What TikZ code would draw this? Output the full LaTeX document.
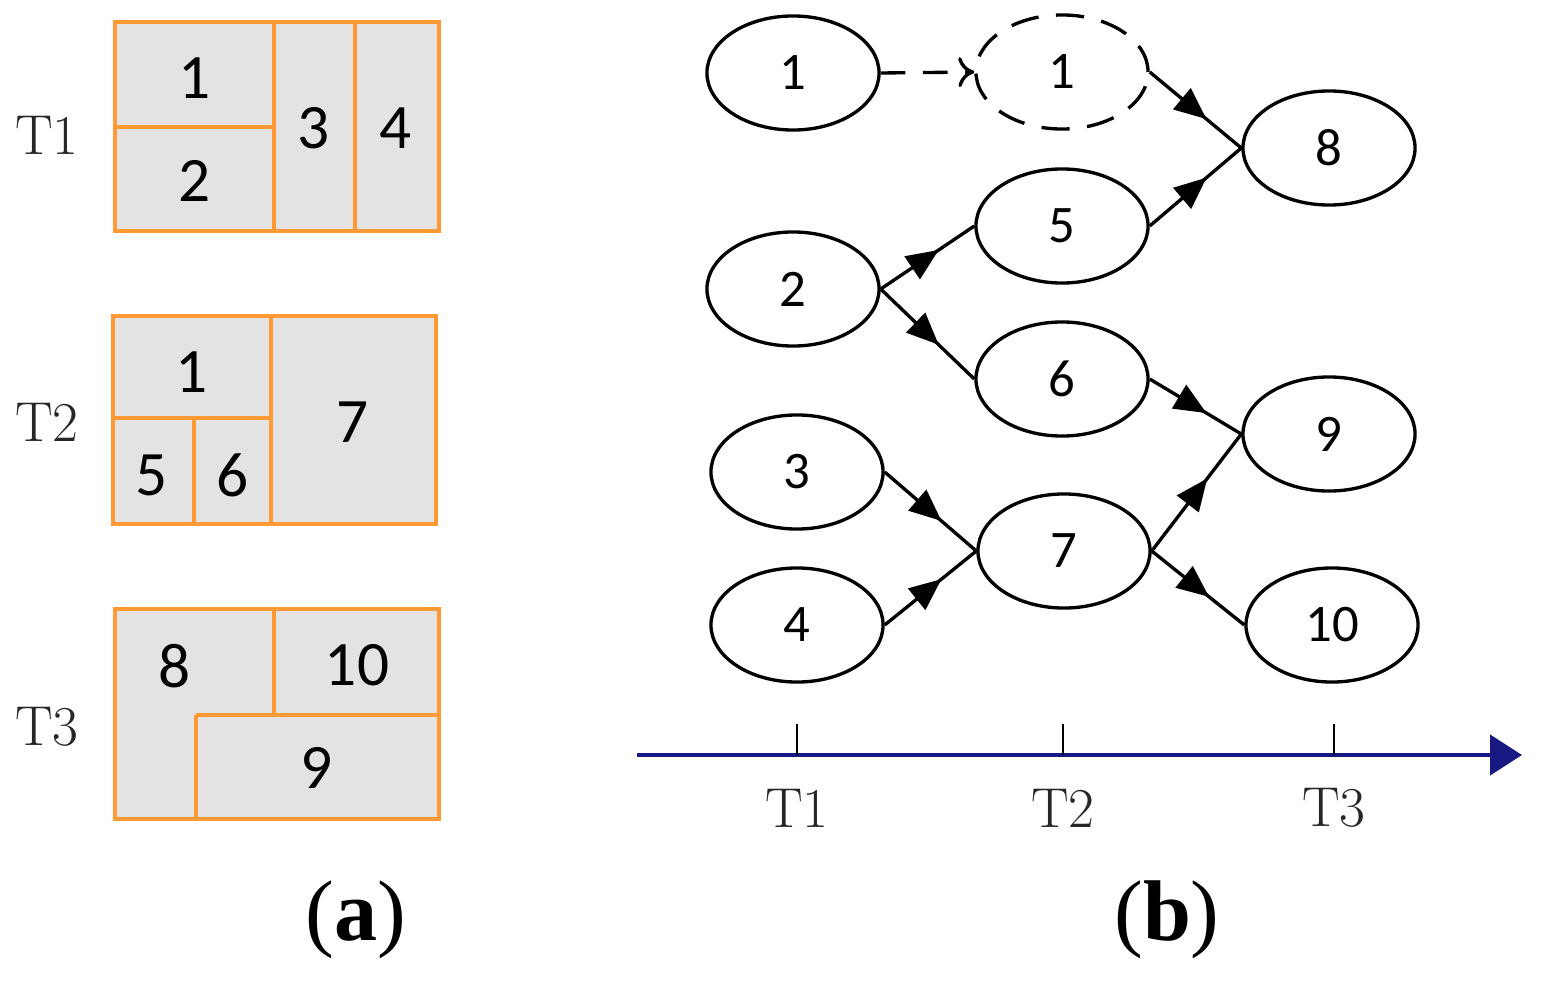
\documentclass[tikz,border=0pt]{standalone}
\usepackage{fontspec}
\newfontfamily\cellfont{Carlito}
\newfontfamily\capfont{Liberation Serif}
\usetikzlibrary{arrows.meta,decorations.markings,shapes.geometric,positioning}
\definecolor{boxorange}{RGB}{255,153,51}
\definecolor{boxgray}{RGB}{227,227,227}
\definecolor{axisblue}{RGB}{24,24,130}

\begin{document}
\begin{tikzpicture}[x=0.01cm,y=-0.01cm,
    block/.style={draw=boxorange,fill=boxgray,line width=1.1pt},
    split/.style={draw=boxorange,line width=1.1pt},
    cell/.style={font=\cellfont\fontsize{18}{20}\selectfont},
    tlabel/.style={font=\fontsize{16}{18}\selectfont,text=black!85},
    blob/.style={ellipse,draw,line width=0.95pt,minimum width=1.72cm,minimum height=1.14cm,
      inner sep=0pt,font=\cellfont\fontsize{15}{17}\selectfont},
    mid/.style={postaction={decorate},decoration={markings,
      mark=at position 0.62 with {\arrow{Triangle[length=3.2mm,width=2.7mm]}}}},
    panel/.style={font=\capfont\fontsize{24.5}{28}\selectfont}]
  \useasboundingbox (0,0) rectangle (1543,985);

  % (a): layouts
  \filldraw[block] (115,22) rectangle (439,231);
  \draw[split] (274,22) -- (274,231) (355,22) -- (355,231) (115,127) -- (274,127);
  \node[cell] (c_1)  at (195,78)  {1};
  \node[cell] (c_2)  at (195,181) {2};
  \node[cell] (c_3)  at (314,128) {3};
  \node[cell] (c_4)  at (396,128) {4};
  \node[tlabel] (t_1) at (47,135) {T1};

  \filldraw[block] (113,316) rectangle (436,524);
  \draw[split] (271,316) -- (271,524) (113,418) -- (271,418) (194,418) -- (194,524);
  \node[cell] (c_1b) at (192,372) {1};
  \node[cell] (c_5)  at (152,475) {5};
  \node[cell] (c_6)  at (233,475) {6};
  \node[cell] (c_7)  at (353,422) {7};
  \node[tlabel] (t_2) at (47,422) {T2};

  \filldraw[block] (115,609) rectangle (439,819);
  \draw[split] (274,609) -- (274,715) (196,715) -- (439,715) (196,715) -- (196,819);
  \node[cell] (c_8)  at (175,666) {8};
  \node[cell] (c_10) at (357,665) {10};
  \node[cell] (c_9)  at (317,768) {9};
  \node[tlabel] (t_3) at (47,727) {T3};

  % (b): graph
  \node[blob] (q_1)  at (793,73)   {1};
  \node[blob,dash pattern=on 8pt off 5pt] (q_1d) at (1062,72) {1};
  \node[blob] (q_2)  at (793,289)  {2};
  \node[blob] (q_3)  at (797,472)  {3};
  \node[blob] (q_4)  at (797,625)  {4};
  \node[blob] (q_5)  at (1062,226) {5};
  \node[blob] (q_6)  at (1062,379) {6};
  \node[blob] (q_7)  at (1064,551) {7};
  \node[blob] (q_8)  at (1329,148) {8};
  \node[blob] (q_9)  at (1329,434) {9};
  \node[blob] (q_10) at (1332,625) {10};

  \draw[line width=0.95pt,dash pattern=on 7pt off 5pt,-{To[length=1.6mm,width=3mm]}] (q_1.east) -- (q_1d.west);
  \foreach \a/\b in {1d/8,5/8,2/5,2/6,6/9,7/9,3/7,4/7,7/10}
    \draw[line width=0.95pt,mid] (q_\a.east) -- (q_\b.west);

  % time axis
  \coordinate (ax_s) at (637,755);
  \coordinate (ax_e) at (1522,755);
  \draw[axisblue,line width=1.3pt,-{Triangle[length=3.2mm,width=4mm]}] (ax_s) -- (ax_e);
  \foreach \x/\t in {797/T1,1063/T2,1334/T3}{
    \draw[line width=0.6pt] (\x,724) -- (\x,755);
    \node[tlabel] at (\x,808) {\t};
  }

  \node[panel] (lab_a) at (356,920) {(\textbf{a})};
  \node[panel] (lab_b) at (1167,920) {(\textbf{b})};
\end{tikzpicture}
\end{document}
